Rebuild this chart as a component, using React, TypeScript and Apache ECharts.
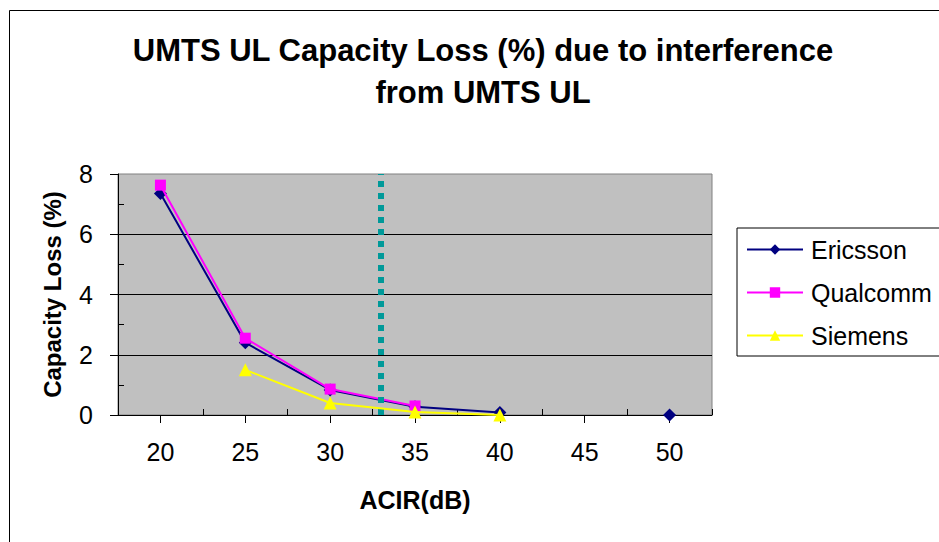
import React, { useEffect, useRef } from "react";
import * as echarts from "echarts";

const acir = [20, 25, 30, 35, 40, 45, 50];
const ericsson: (number | null)[] = [7.35, 2.4, 0.83, 0.27, 0.08, null, 0];
const qualcomm: (number | null)[] = [7.63, 2.55, 0.86, 0.3, null, null, null];
const siemens: (number | null)[] = [null, 1.5, 0.4, 0.1, 0.0, null, null];
const thresholdAcir = 33;
const yTicks = [0, 2, 4, 6, 8];
const yMinorTicks = [1, 3, 5, 7];
const xMinorTicks = [22.5, 27.5, 32.5, 37.5, 42.5, 47.5, 52.5];

const pairs = (vals: (number | null)[]) =>
  acir.map((x, i) => [x, vals[i] === null ? "-" : vals[i]]);

export default function App() {
  const ref = useRef<HTMLDivElement>(null);
  useEffect(() => {
    document.body.style.margin = "0";
    const chart = echarts.init(ref.current!, undefined, { renderer: "svg" });
    const font = "Liberation Sans, Arial, sans-serif";
    chart.setOption({
      animation: false,
      backgroundColor: "#ffffff",
      textStyle: { fontFamily: font },
      title: {
        text: "UMTS UL Capacity Loss (%) due to interference\nfrom UMTS UL",
        left: 478,
        top: 24,
        textAlign: "center",
        textStyle: { fontSize: 31, fontWeight: "bold", color: "#000", lineHeight: 42, fontFamily: font },
      },
      graphic: [
        {
          type: "rect",
          shape: { x: 9.5, y: 10.5, width: 1000, height: 1000 },
          style: { fill: "none", stroke: "#000", lineWidth: 1 },
          silent: true,
          z: -10,
        },
      ],
      legend: {
        orient: "vertical",
        left: 737,
        top: 228,
        padding: [9, 40, 8, 9],
        borderColor: "#000",
        borderWidth: 1,
        itemWidth: 56,
        itemHeight: 13,
        itemGap: 18,
        textStyle: { fontSize: 25, color: "#000", fontFamily: font, padding: [0, 0, 0, 3] },
        data: ["Ericsson", "Qualcomm", "Siemens"],
      },
      grid: {
        left: 118,
        top: 174,
        right: 227,
        bottom: 127,
        show: true,
        backgroundColor: "#C0C0C0",
        borderColor: "#808080",
        borderWidth: 1,
      },
      xAxis: [
        {
          type: "value",
          min: 17.5,
          max: 52.5,
          interval: 2.5,
          name: "ACIR(dB)",
          nameLocation: "middle",
          nameGap: 72,
          nameTextStyle: { fontSize: 25, fontWeight: "bold", color: "#000", fontFamily: font },
          axisLine: { show: true, onZero: false, lineStyle: { color: "#000", width: 1 } },
          axisTick: { show: true, length: 8, customValues: acir, lineStyle: { color: "#000" } },
          axisLabel: { customValues: acir, fontSize: 25, color: "#000", margin: 24, fontFamily: font },
          splitLine: { show: false },
        },
        {
          type: "value",
          min: 17.5,
          max: 52.5,
          interval: 2.5,
          position: "bottom",
          axisLine: { show: false },
          axisTick: { show: true, inside: true, length: 6, customValues: xMinorTicks, lineStyle: { color: "#000" } },
          axisLabel: { show: false },
          splitLine: { show: false },
        },
      ],
      yAxis: [
        {
          type: "value",
          min: 0,
          max: 8,
          interval: 2,
          name: "Capacity Loss (%)",
          nameLocation: "middle",
          nameGap: 54,
          nameTextStyle: { fontSize: 24, fontWeight: "bold", color: "#000", fontFamily: font },
          axisLine: { show: true, onZero: false, lineStyle: { color: "#000", width: 1 } },
          axisTick: { show: true, length: 8, customValues: yTicks, lineStyle: { color: "#000" } },
          axisLabel: { fontSize: 25, color: "#000", margin: 25, fontFamily: font },
          splitLine: { show: true, showMinLine: false, showMaxLine: false, lineStyle: { color: "#000", width: 1 } },
        },
        {
          type: "value",
          min: 0,
          max: 8,
          interval: 2,
          position: "left",
          axisLine: { show: false },
          axisTick: { show: true, inside: true, length: 6, customValues: yMinorTicks, lineStyle: { color: "#000" } },
          axisLabel: { show: false },
          splitLine: { show: false },
        },
      ],
      series: [
        {
          name: "Ericsson",
          type: "line",
          data: pairs(ericsson),
          connectNulls: false,
          symbol: "diamond",
          symbolSize: 13,
          color: "#000080",
          lineStyle: { color: "#000080", width: 2 },
          itemStyle: { color: "#000080" },
          z: 3,
        },
        {
          name: "Qualcomm",
          type: "line",
          data: pairs(qualcomm),
          connectNulls: false,
          symbol: "rect",
          symbolSize: 11,
          color: "#FF00FF",
          lineStyle: { color: "#FF00FF", width: 2 },
          itemStyle: { color: "#FF00FF" },
          z: 4,
        },
        {
          name: "Siemens",
          type: "line",
          data: pairs(siemens),
          connectNulls: false,
          symbol: "triangle",
          symbolSize: 13,
          color: "#FFFF00",
          lineStyle: { color: "#FFFF00", width: 2 },
          itemStyle: { color: "#FFFF00" },
          z: 5,
        },
        {
          name: "threshold",
          type: "line",
          data: [],
          z: 6,
          markLine: {
            silent: true,
            symbol: "none",
            label: { show: false },
            lineStyle: { color: "#009999", width: 6, type: [6, 6] },
            data: [{ xAxis: thresholdAcir }],
          },
        },
      ],
    });
    return () => chart.dispose();
  }, []);
  return <div ref={ref} style={{ width: 939, height: 542 }} />;
}
